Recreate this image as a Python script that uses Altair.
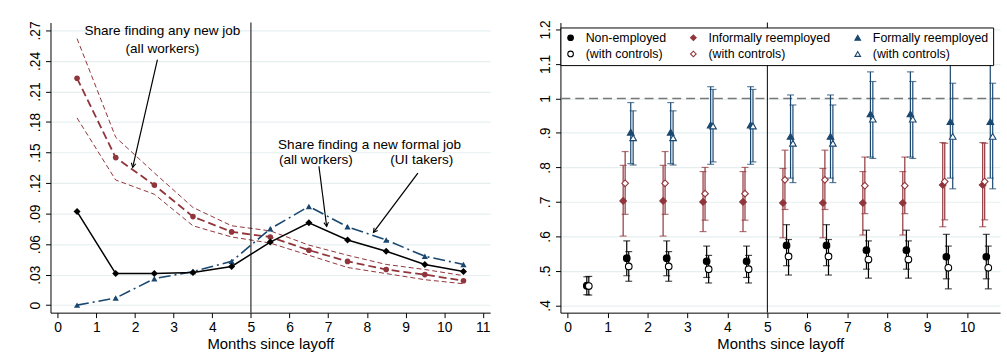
import altair as alt
import pandas as pd

FONT = "Liberation Sans"
RED = "#90353b"
BLUE = "#1a476f"
BLACK = "#000000"
GRID = "#e6eff0"

# ---------------- Left panel data ----------------
months_l = [0.5, 1.5, 2.5, 3.5, 4.5, 5.5, 6.5, 7.5, 8.5, 9.5, 10.5]
any_est = [0.223, 0.145, 0.118, 0.087, 0.072, 0.067, 0.054, 0.043, 0.035, 0.030, 0.024]
any_hi = [0.262, 0.165, 0.130, 0.096, 0.078, 0.073, 0.059, 0.049, 0.040, 0.035, 0.029]
any_lo = [0.184, 0.123, 0.109, 0.078, 0.067, 0.061, 0.049, 0.037, 0.031, 0.025, 0.021]
formal_all = [0.092, 0.031, 0.031, 0.032, 0.038, 0.062, 0.081, 0.064, 0.053, 0.040, 0.033]
formal_ui = [0.000, 0.007, 0.026, 0.033, 0.043, 0.075, 0.097, 0.077, 0.064, 0.048, 0.040]

left_yticks = [0, 0.03, 0.06, 0.09, 0.12, 0.15, 0.18, 0.21, 0.24, 0.27]
left_ylabels = ["0", ".03", ".06", ".09", ".12", ".15", ".18", ".21", ".24", ".27"]
left_xticks = [0, 1, 2, 3, 4, 5, 6, 7, 8, 9, 10, 11]

annot_text = ["Share finding any new job", "(all workers)",
              "Share finding a new formal job", "(all workers)", "(UI takers)"]
annot_x = [2.71, 2.71, 8.07, 6.68, 9.42]
annot_y = [0.2694, 0.2519, 0.1569, 0.1423, 0.1423]

arrow_x1 = [2.58, 6.76, 9.32]
arrow_y1 = [0.2413, 0.1365, 0.1297]
arrow_x2 = [1.94, 6.96, 8.17]
arrow_y2 = [0.1355, 0.0773, 0.0715]
arrow_angle = [13, 353, 37]

# ---------------- Right panel data ----------------
months_all = [0.5, 1.5, 2.5, 3.5, 4.5, 5.5, 6.5, 7.5, 8.5, 9.5, 10.5]
months_re = [1.5, 2.5, 3.5, 4.5, 5.5, 6.5, 7.5, 8.5, 9.5, 10.5]

ne_est = [0.457, 0.537, 0.537, 0.528, 0.528, 0.574, 0.574, 0.560, 0.560, 0.541, 0.541]
ne_lo = [0.431, 0.486, 0.486, 0.481, 0.481, 0.515, 0.515, 0.505, 0.505, 0.477, 0.477]
ne_hi = [0.483, 0.587, 0.587, 0.572, 0.572, 0.634, 0.634, 0.618, 0.618, 0.606, 0.606]
nec_est = [0.456, 0.513, 0.513, 0.505, 0.505, 0.542, 0.542, 0.533, 0.533, 0.509, 0.509]
nec_lo = [0.430, 0.470, 0.470, 0.465, 0.465, 0.488, 0.488, 0.479, 0.479, 0.448, 0.448]
nec_hi = [0.484, 0.556, 0.556, 0.545, 0.545, 0.591, 0.591, 0.587, 0.587, 0.572, 0.572]

inf_est = [0.703, 0.703, 0.700, 0.700, 0.697, 0.697, 0.697, 0.697, 0.749, 0.749]
inf_lo = [0.601, 0.601, 0.614, 0.614, 0.596, 0.596, 0.604, 0.604, 0.628, 0.628]
inf_hi = [0.806, 0.806, 0.788, 0.788, 0.797, 0.797, 0.788, 0.788, 0.872, 0.872]
infc_est = [0.754, 0.754, 0.724, 0.724, 0.764, 0.764, 0.747, 0.747, 0.759, 0.759]
infc_lo = [0.664, 0.664, 0.647, 0.647, 0.678, 0.678, 0.666, 0.666, 0.648, 0.648]
infc_hi = [0.846, 0.846, 0.800, 0.800, 0.850, 0.850, 0.830, 0.830, 0.870, 0.870]

for_est = [0.902, 0.902, 0.923, 0.923, 0.890, 0.890, 0.955, 0.955, 0.933, 0.933]
for_lo = [0.811, 0.811, 0.809, 0.809, 0.769, 0.769, 0.830, 0.830, 0.769, 0.769]
for_hi = [0.988, 0.988, 1.034, 1.034, 1.010, 1.010, 1.077, 1.077, 1.100, 1.100]
forc_est = [0.886, 0.886, 0.920, 0.920, 0.870, 0.870, 0.940, 0.940, 0.890, 0.890]
forc_lo = [0.807, 0.807, 0.816, 0.816, 0.756, 0.756, 0.826, 0.826, 0.738, 0.738]
forc_hi = [0.964, 0.964, 1.026, 1.026, 0.981, 0.981, 1.049, 1.049, 1.044, 1.044]

series_codes = ["a", "b", "c", "d", "e", "f"]
series_labels = ["Non-employed", "Informally reemployed", "Formally reemployed",
                 "(with controls)", "(with controls)", "(with controls)"]
series_colors = [BLACK, RED, BLUE, BLACK, RED, BLUE]
series_fill = [BLACK, RED, BLUE, "white", "white", "white"]
series_shape = ["circle", "diamond", "triangle-up", "circle", "diamond", "triangle-up"]
series_offset = [-0.02, -0.11, 0.08, 0.03, -0.06, 0.14]

right_yticks = [0.4, 0.5, 0.6, 0.7, 0.8, 0.9, 1, 1.1, 1.2]
right_ylabels = [".4", ".5", ".6", ".7", ".8", ".9", "1", "1.1", "1.2"]
right_xticks = [0, 1, 2, 3, 4, 5, 6, 7, 8, 9, 10]


def label_expr(vals, labs):
    return ("[" + ",".join("'" + l + "'" for l in labs) + "][indexof(["
            + ",".join(repr(v) for v in vals) + "], datum.value)]")


W, H = 444, 293
PAD_L, PAD_T = 28, 18
ORIGIN_X = 47

# ---------------- Left panel ----------------
dfl = pd.DataFrame({"month": months_l, "est": any_est, "hi": any_hi, "lo": any_lo,
                    "fa": formal_all, "fu": formal_ui})

xsl = alt.Scale(domain=[-0.187, 11.19], nice=False, zero=False)
ysl = alt.Scale(domain=[-0.0074, 0.2778], nice=False, zero=False)
axl_x = alt.Axis(values=left_xticks, title="Months since layoff", grid=False, format="d")
axl_y = alt.Axis(values=left_yticks, title=None, grid=True,
                 labelExpr=label_expr(left_yticks, left_ylabels))


def XL(f):
    return alt.X(f, type="quantitative", scale=xsl, axis=axl_x)


def YL(f):
    return alt.Y(f, type="quantitative", scale=ysl, axis=axl_y)


basel = alt.Chart(dfl)
ci_hi = basel.mark_line(color=RED, strokeDash=[5, 3], strokeWidth=1).encode(x=XL("month"), y=YL("hi"))
ci_lo = basel.mark_line(color=RED, strokeDash=[5, 3], strokeWidth=1).encode(x=XL("month"), y=YL("lo"))
any_line = basel.mark_line(color=RED, strokeDash=[8, 4], strokeWidth=1.8).encode(x=XL("month"), y=YL("est"))
any_pts = basel.mark_point(color=RED, filled=True, shape="circle", size=32, opacity=1).encode(
    x=XL("month"), y=YL("est"))
fu_line = basel.mark_line(color=BLUE, strokeDash=[12, 4, 2, 4], strokeWidth=1.6).encode(
    x=XL("month"), y=YL("fu"))
fu_pts = basel.mark_point(color=BLUE, filled=True, shape="triangle-up", size=40, opacity=1).encode(
    x=XL("month"), y=YL("fu"))
fa_line = basel.mark_line(color=BLACK, strokeWidth=1.5).encode(x=XL("month"), y=YL("fa"))
fa_pts = basel.mark_point(color=BLACK, filled=True, shape="diamond", size=50, opacity=1).encode(
    x=XL("month"), y=YL("fa"))

vline_l = alt.Chart(pd.DataFrame({"x": [5]})).mark_rule(color=BLACK, strokeWidth=1).encode(x=XL("x"))

dfa = pd.DataFrame({"t": annot_text, "x": annot_x, "y": annot_y})
annots = alt.Chart(dfa).mark_text(font=FONT, fontSize=13.7, color=BLACK, align="center",
                                  baseline="middle").encode(x=XL("x"), y=YL("y"), text="t:N")

dfarr = pd.DataFrame({"x1": arrow_x1, "y1": arrow_y1, "x2": arrow_x2, "y2": arrow_y2, "a": arrow_angle})
arr_lines = alt.Chart(dfarr).mark_rule(color=BLACK, strokeWidth=1.2).encode(
    x=XL("x1"), y=YL("y1"), x2="x2:Q", y2="y2:Q")
arr_heads = alt.Chart(dfarr).mark_point(shape="M-0.55,-1L0,0L0.55,-1", filled=False, color=BLACK,
                                        strokeWidth=1.1, size=70, opacity=1).encode(
    x=XL("x2"), y=YL("y2"), angle=alt.Angle("a:Q", scale=None))

left = alt.layer(ci_hi, ci_lo, any_line, fu_line, fa_line, any_pts, fu_pts, fa_pts,
                 vline_l, annots, arr_lines, arr_heads).properties(width=W, height=H)

# ---------------- Right panel ----------------
rows = []
groups = [
    ("a", months_all, ne_est, ne_lo, ne_hi),
    ("b", months_re, inf_est, inf_lo, inf_hi),
    ("c", months_re, for_est, for_lo, for_hi),
    ("d", months_all, nec_est, nec_lo, nec_hi),
    ("e", months_re, infc_est, infc_lo, infc_hi),
    ("f", months_re, forc_est, forc_lo, forc_hi),
]
for code, ms, es, los, his in groups:
    i = series_codes.index(code)
    for m, e, lo, hi in zip(ms, es, los, his):
        rows.append({"series": code, "xpos": m + series_offset[i], "est": e, "lo": lo, "hi": hi,
                     "col": series_colors[i]})
dfr = pd.DataFrame(rows)

xsr = alt.Scale(domain=[-0.18, 10.825], nice=False, zero=False)
ysr = alt.Scale(domain=[0.379, 1.220], nice=False, zero=False)
axr_x = alt.Axis(values=right_xticks, title="Months since layoff", grid=False, format="d")
axr_y = alt.Axis(values=right_yticks, title=None, grid=True,
                 labelExpr=label_expr(right_yticks, right_ylabels))


def XR(f):
    return alt.X(f, type="quantitative", scale=xsr, axis=axr_x)


def YR(f):
    return alt.Y(f, type="quantitative", scale=ysr, axis=axr_y)


baser = alt.Chart(dfr)
hline = alt.Chart(pd.DataFrame({"y": [1.0]})).mark_rule(
    color="#777777", strokeDash=[9, 5], strokeWidth=1.6).encode(y=YR("y"))
vline_r = alt.Chart(pd.DataFrame({"x": [5]})).mark_rule(color=BLACK, strokeWidth=1).encode(x=XR("x"))
ci_rules = baser.mark_rule(strokeWidth=1.2).encode(
    x=XR("xpos"), y=YR("lo"), y2="hi:Q", color=alt.Color("col:N", scale=None))
cap_lo = baser.mark_tick(orient="horizontal", size=7, thickness=1.2).encode(
    x=XR("xpos"), y=YR("lo"), color=alt.Color("col:N", scale=None))
cap_hi = baser.mark_tick(orient="horizontal", size=7, thickness=1.2).encode(
    x=XR("xpos"), y=YR("hi"), color=alt.Color("col:N", scale=None))

leg_expr = label_expr(series_codes, series_labels)
LEG_X = 562 - ORIGIN_X
LEG_Y = 5
leg = alt.Legend(title=None, labelExpr=leg_expr, orient="none", legendX=LEG_X, legendY=LEG_Y,
                 columns=3, direction="horizontal")
pts = baser.mark_point(filled=True, strokeWidth=1.1, size=45, opacity=1).encode(
    x=XR("xpos"), y=YR("est"),
    fill=alt.Fill("series:N", scale=alt.Scale(domain=series_codes, range=series_fill), legend=leg),
    stroke=alt.Stroke("series:N", scale=alt.Scale(domain=series_codes, range=series_colors), legend=leg),
    shape=alt.Shape("series:N", scale=alt.Scale(domain=series_codes, range=series_shape), legend=leg),
)

right = alt.layer(hline, vline_r, ci_rules, cap_lo, cap_hi, pts).properties(width=W, height=H)

chart = alt.hconcat(left, right, spacing=48).properties(
    padding={"left": PAD_L, "top": PAD_T, "right": 6, "bottom": 0}
).configure_view(stroke=None).configure_axis(
    labelFont=FONT, titleFont=FONT, labelFontSize=14, titleFontSize=15,
    labelColor=BLACK, titleColor=BLACK, titleFontWeight="normal",
    domainColor=BLACK, tickColor=BLACK, tickSize=5, labelPadding=3, titlePadding=2,
    gridColor=GRID, gridWidth=1.2, domainWidth=1,
).configure_axisY(labelAngle=270, labelAlign="center", labelBaseline="bottom").configure_legend(
    strokeColor=BLACK, fillColor="white", padding=4, rowPadding=3.5, columnPadding=21,
    labelFont=FONT, labelFontSize=12.5, labelColor=BLACK, symbolSize=32, labelOffset=9,
    symbolStrokeWidth=1.1, cornerRadius=0,
)

chart.save("out.html", embed_options={"renderer": "svg", "actions": False})
